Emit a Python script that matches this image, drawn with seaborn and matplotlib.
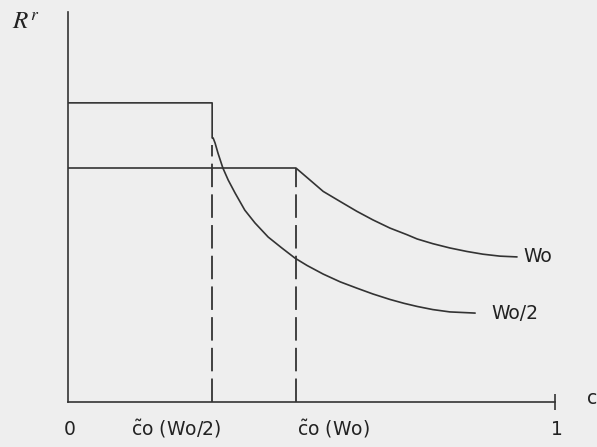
import matplotlib
matplotlib.use("Agg")
import matplotlib.pyplot as plt
import seaborn as sns
import pandas as pd

# Output curve for full wealth Wo: flat up to c~o(Wo), then decreasing
wo_x = [0.0, 0.468, 0.497, 0.524, 0.559, 0.593, 0.626, 0.661, 0.696, 0.717,
        0.749, 0.784, 0.819, 0.852, 0.887, 0.922]
wo_y = [0.600, 0.600, 0.569, 0.540, 0.514, 0.489, 0.467, 0.446, 0.429, 0.418,
        0.406, 0.395, 0.386, 0.379, 0.374, 0.372]

# Output curve for half wealth Wo/2: higher flat, drop at c~o(Wo/2), then decreasing
half_x = [0.0, 0.296, 0.296, 0.298, 0.302, 0.308, 0.318, 0.329, 0.343, 0.363,
          0.384, 0.411, 0.439, 0.466, 0.491, 0.524, 0.559, 0.593, 0.626, 0.661,
          0.690, 0.717, 0.749, 0.784, 0.836]
half_y = [0.767, 0.767, 0.677, 0.677, 0.664, 0.638, 0.600, 0.569, 0.536, 0.492,
          0.459, 0.423, 0.395, 0.369, 0.350, 0.328, 0.308, 0.292, 0.277, 0.263,
          0.253, 0.245, 0.237, 0.231, 0.228]

# Threshold positions on the c axis and where their guides stop
thresholds = [0.296, 0.468]
threshold_tops = [0.66, 0.600]
threshold_labels = [r"$\tilde{\mathrm{c}}$o (Wo/2)", r"$\tilde{\mathrm{c}}$o (Wo)"]
threshold_label_x = [0.222, 0.544]

curve_labels = ["Wo", "Wo/2"]
curve_label_pos = [(0.936, 0.372), (0.870, 0.228)]

line_color = "#333333"
text_color = "#222222"
bg = "#eeeeee"

sns.set_theme(style="white", rc={"figure.facecolor": bg, "axes.facecolor": bg})
plt.rcParams["font.family"] = ["DejaVu Sans"]
plt.rcParams["mathtext.fontset"] = "dejavusans"

W, H = 597, 447
fig = plt.figure(figsize=(W / 100, H / 100), dpi=100)
ax = fig.add_axes([68 / W, (H - 402) / H, 487 / W, 390 / H])
ax.set_xlim(0, 1)
ax.set_ylim(0, 1)

df_wo = pd.DataFrame({"c": wo_x, "R": wo_y})
df_half = pd.DataFrame({"c": half_x, "R": half_y})
sns.lineplot(data=df_wo, x="c", y="R", sort=False, estimator=None,
             color=line_color, lw=1.2, ax=ax)
sns.lineplot(data=df_half, x="c", y="R", sort=False, estimator=None,
             color=line_color, lw=1.2, ax=ax)

for xv, top in zip(thresholds, threshold_tops):
    ax.plot([xv, xv], [0, top], color=line_color, lw=1.3,
            dashes=(13, 4), solid_capstyle="butt")

fs = 13.5
for lx, txt in zip(threshold_label_x, threshold_labels):
    ax.text(lx, -0.085, txt, ha="center", va="baseline", fontsize=fs,
            color=text_color, clip_on=False)

for txt, (lx, ly) in zip(curve_labels, curve_label_pos):
    ax.text(lx, ly, txt, ha="left", va="center", fontsize=fs,
            color=text_color, clip_on=False)

ax.text(0.004, -0.085, "0", ha="center", va="baseline", fontsize=fs,
        color=text_color, clip_on=False)
ax.text(1.004, -0.085, "1", ha="center", va="baseline", fontsize=fs,
        color=text_color, clip_on=False)
ax.text(1.066, 0.01, "c", ha="left", va="center", fontsize=fs,
        color=text_color, clip_on=False)
ax.text(-0.115, 0.972, r"$R^r$", ha="left", va="center", fontsize=18,
        color=text_color, clip_on=False, math_fontfamily="stix")

for side in ["top", "right"]:
    ax.spines[side].set_visible(False)
for side in ["left", "bottom"]:
    ax.spines[side].set_color(line_color)
    ax.spines[side].set_linewidth(1.2)

ax.set_xticks([1])
ax.set_xticklabels([""])
ax.set_yticks([])
ax.tick_params(axis="x", direction="inout", length=11, width=1.2,
               color=line_color, bottom=True)
ax.set_xlabel("")
ax.set_ylabel("")

fig.savefig("out.png", dpi=100, facecolor=bg)
